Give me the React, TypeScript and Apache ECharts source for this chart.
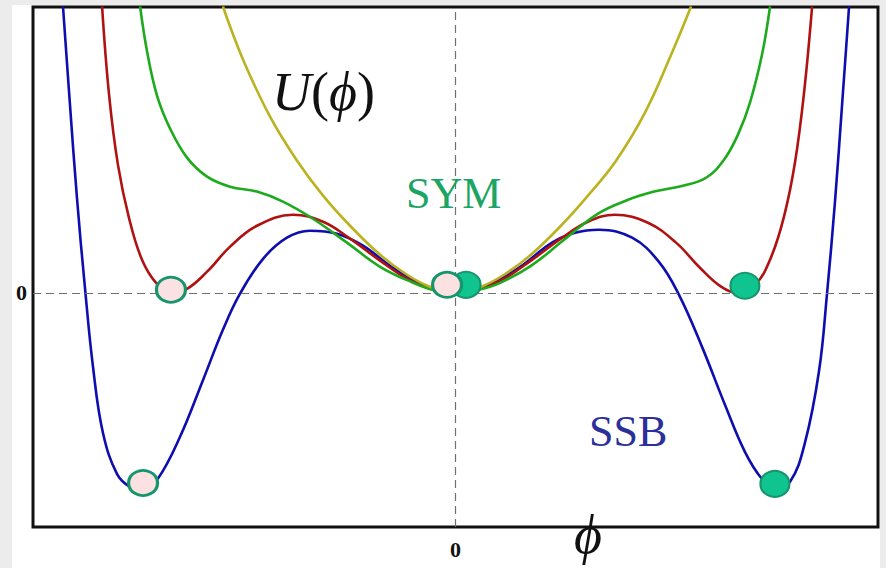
import React, { useEffect, useRef } from 'react';
import * as echarts from 'echarts';

// tick values shown on the axes
const phiTicks = [0];
const uTicks = [0];

// curves: [phi, U]
const blueSSB: number[][] = [
  [-1.858, 1.222], [-1.825, 0.803], [-1.792, 0.406], [-1.754, 0.021], [-1.716, -0.316],
  [-1.669, -0.598], [-1.602, -0.774], [-1.541, -0.829], [-1.484, -0.842], [-1.413, -0.799],
  [-1.304, -0.615], [-1.195, -0.372], [-1.101, -0.158], [-1.02, -0.004], [-0.911, 0.145],
  [-0.798, 0.235], [-0.689, 0.265], [-0.561, 0.252], [-0.438, 0.201], [-0.31, 0.115],
  [-0.201, 0.056], [-0.107, 0.017], [0, 0],
  [0.14, 0.026], [0.301, 0.107], [0.457, 0.214], [0.566, 0.256], [0.679, 0.269],
  [0.836, 0.235], [0.963, 0.132], [1.058, -0.009], [1.167, -0.231], [1.276, -0.479],
  [1.37, -0.679], [1.451, -0.795], [1.512, -0.833], [1.583, -0.808], [1.654, -0.641],
  [1.721, -0.333], [1.759, 0], [1.796, 0.385], [1.83, 0.803], [1.863, 1.222],
];
const redCurve: number[][] = [
  [-1.673, 1.222], [-1.64, 0.846], [-1.598, 0.547], [-1.546, 0.321], [-1.484, 0.141],
  [-1.413, 0.038], [-1.342, 0.004], [-1.271, 0.017], [-1.176, 0.09], [-1.067, 0.197],
  [-0.94, 0.286], [-0.769, 0.333], [-0.627, 0.303], [-0.499, 0.231], [-0.357, 0.137],
  [-0.23, 0.06], [-0.121, 0.017], [0, 0],
  [0.121, 0.017], [0.23, 0.06], [0.357, 0.137], [0.499, 0.231], [0.627, 0.303],
  [0.755, 0.333], [0.911, 0.299], [1.044, 0.214], [1.157, 0.107], [1.257, 0.026],
  [1.333, 0], [1.422, 0.038], [1.493, 0.15], [1.555, 0.325], [1.607, 0.556],
  [1.65, 0.855], [1.688, 1.222],
];
const greenCurve: number[][] = [
  [-1.493, 1.222], [-1.46, 1.03], [-1.413, 0.842], [-1.351, 0.701], [-1.271, 0.577],
  [-1.176, 0.496], [-1.067, 0.453], [-0.94, 0.432], [-0.817, 0.389], [-0.675, 0.316],
  [-0.514, 0.214], [-0.357, 0.111], [-0.201, 0.043], [-0.107, 0.013], [0, 0],
  [0.107, 0.013], [0.201, 0.038], [0.357, 0.115], [0.514, 0.226], [0.675, 0.338],
  [0.817, 0.397], [0.94, 0.432], [1.077, 0.457], [1.186, 0.491], [1.271, 0.568],
  [1.337, 0.675], [1.394, 0.812], [1.451, 1.017], [1.489, 1.222],
];
const yellowSYM: number[][] = [
  [-1.101, 1.222], [-1.006, 0.996], [-0.878, 0.752], [-0.75, 0.564], [-0.627, 0.415],
  [-0.499, 0.286], [-0.357, 0.162], [-0.23, 0.077], [-0.121, 0.026], [0, 0],
  [0.121, 0.026], [0.23, 0.077], [0.357, 0.162], [0.499, 0.286], [0.627, 0.415],
  [0.76, 0.564], [0.897, 0.769], [1.015, 1.004], [1.115, 1.222],
];
// balls
const openMarkers: number[][] = [[-1.347, 0.013], [-1.479, -0.812], [-0.04, 0.034]];
const filledMarkers: number[][] = [[0.05, 0.034], [1.37, 0.03], [1.512, -0.816]];

export default function App() {
  const ref = useRef<HTMLDivElement>(null);
  useEffect(() => {
    const chart = echarts.init(ref.current!, null, { renderer: 'svg' });
    const serif = "'Liberation Serif', 'DejaVu Serif', serif";
    const line = (name: string, data: number[][], color: string, z: number) => ({
      type: 'line', name, data, smooth: 0.4, symbol: 'none', clip: true, silent: true, z,
      lineStyle: { color, width: 2.6 },
    });
    const txt = (text: string, x: number, y: number, size: number, fill: string, italic: boolean, align = 'left') => ({
      type: 'text', x, y, silent: true, z: 10,
      style: {
        text, fill, fontSize: size, fontFamily: serif, fontStyle: italic ? 'italic' : 'normal',
        align, verticalAlign: 'middle', textAlign: align, textVerticalAlign: 'middle',
      },
    });
    chart.setOption({
      animation: false,
      backgroundColor: '#ffffff',
      grid: { left: 33, top: 7, width: 845, height: 520, show: true, borderColor: '#111', borderWidth: 3, backgroundColor: 'transparent' },
      xAxis: {
        type: 'value', min: -2, max: 2,
        axisLine: { show: false }, splitLine: { show: false },
        axisTick: { show: true, inside: true, length: 5, customValues: phiTicks, lineStyle: { color: '#111', width: 2 } },
        axisLabel: { customValues: phiTicks, fontFamily: serif, fontWeight: 'bold', fontSize: 22, color: '#111', margin: 11 },
      },
      yAxis: {
        type: 'value', min: -1, max: 1.22,
        axisLine: { show: false }, splitLine: { show: false },
        axisTick: { show: true, inside: true, length: 5, customValues: uTicks, lineStyle: { color: '#111', width: 2 } },
        axisLabel: { customValues: uTicks, fontFamily: serif, fontWeight: 'bold', fontSize: 22, color: '#111', margin: 6 },
      },
      series: [
        {
          type: 'line', data: [], z: 1,
          markLine: {
            silent: true, symbol: 'none', label: { show: false },
            lineStyle: { color: '#707070', type: [8, 5], width: 1.2 },
            data: [{ xAxis: 0 }, { yAxis: 0 }],
          },
        },
        line('blue', blueSSB, '#0d0db0', 3),
        line('red', redCurve, '#b01212', 3),
        line('green', greenCurve, '#1daa1d', 3),
        line('yellow', yellowSYM, '#bab21e', 3),
        {
          type: 'scatter', data: filledMarkers, symbol: 'circle', symbolSize: [29, 26], z: 5, silent: true,
          itemStyle: { color: '#10c490', borderColor: '#17946c', borderWidth: 2, opacity: 1 },
        },
        {
          type: 'scatter', data: openMarkers, symbol: 'circle', symbolSize: [29, 25], z: 6, silent: true,
          itemStyle: { color: '#fbe1e2', borderColor: '#15956b', borderWidth: 3, opacity: 1 },
        },
      ],
      graphic: [
        { type: 'rect', silent: true, z: 0, shape: { x: 0, y: 0, width: 12, height: 568 }, style: { fill: '#ececec' } },
        { type: 'rect', silent: true, z: 0, shape: { x: 0, y: 0, width: 886, height: 5 }, style: { fill: '#ececec' } },
        { type: 'rect', silent: true, z: 0, shape: { x: 880, y: 0, width: 6, height: 568 }, style: { fill: '#ececec' } },
        {
          type: 'text', x: 272, y: 92, silent: true, z: 10,
          style: {
            text: '{i|U}{n|(}{i|ϕ}{n|)}', fill: '#111', fontSize: 54, fontFamily: serif,
            verticalAlign: 'middle', textVerticalAlign: 'middle',
            rich: {
              i: { fontStyle: 'italic', fontSize: 54, fontFamily: serif, fill: '#111' },
              n: { fontStyle: 'normal', fontSize: 54, fontFamily: serif, fill: '#111' },
            },
          },
        },
        txt('SYM', 406, 193, 44, '#1aa564', false),
        txt('SSB', 589, 431, 44, '#2b2f98', false),
        txt('ϕ', 588, 535, 54, '#111', true, 'center'),
      ],
    });
    return () => chart.dispose();
  }, []);
  return <div ref={ref} style={{ position: 'fixed', left: 0, top: 0, width: 886, height: 568 }} />;
}
